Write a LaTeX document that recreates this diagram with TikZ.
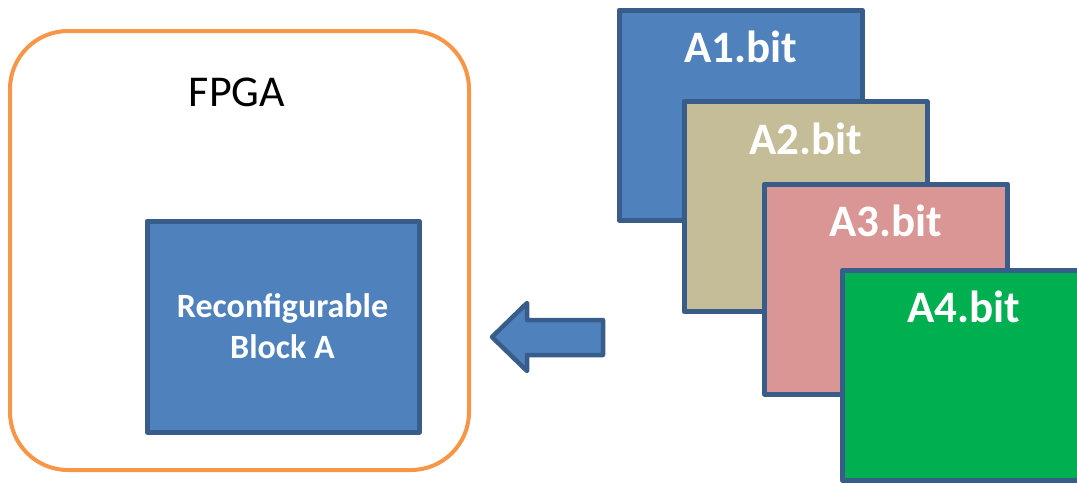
\documentclass[tikz,border=0pt]{standalone}
\usepackage{fontspec}
\setmainfont{Carlito}
\definecolor{fpgaorange}{HTML}{F79646}
\definecolor{boxblue}{HTML}{4F81BD}
\definecolor{boxedge}{HTML}{385D8A}
\definecolor{tan}{HTML}{C4BD97}
\definecolor{rose}{HTML}{D99694}
\definecolor{leaf}{HTML}{00B050}
\tikzset{
  chip/.style={draw=fpgaorange, line width=4pt, rounded corners=58pt,
    minimum width=459pt, minimum height=439pt, inner sep=0pt},
  block/.style={draw=boxedge, line width=5pt, minimum width=243pt,
    minimum height=210pt, inner sep=0pt, line join=round},
  bitlabel/.style={anchor=base, text=white, inner sep=0pt,
    font=\bfseries\fontsize{45}{45}\selectfont},
}
\begin{document}
\begin{tikzpicture}[x=1pt,y=-1pt]
\useasboundingbox (0,0) rectangle (1077,483);
\begin{scope}
\clip (0,0) rectangle (1077,483);

% FPGA outline and its reconfigurable region
\node[chip] (fpga) at (239.5,250.5) {};
\node[anchor=base, inner sep=0pt, font=\fontsize{44}{44}\selectfont]
  (fpgatitle) at (237,106) {FPGA};
\node[block, fill=boxblue, minimum width=272pt, minimum height=211pt]
  (rblock) at (283,326.5) {};
\node[align=center, text=white, inner sep=0pt, anchor=base,
  font=\bfseries\fontsize{34}{41}\selectfont]
  (rtext) at (282.5,358) {Reconfigurable\\Block A};

% stack of partial bitstreams
\node[block, fill=boxblue] (a1) at (740.5,115) {};
\node[bitlabel] (a1t) at ([yshift=-55pt]a1.north) {A1.bit};
\node[block, fill=tan] (a2) at (805.5,206.5) {};
\node[bitlabel] (a2t) at ([yshift=-55pt]a2.north) {A2.bit};
\node[block, fill=rose] (a3) at (886,289) {};
\node[bitlabel] (a3t) at ([yshift=-55pt]a3.north) {A3.bit};
\node[block, fill=leaf] (a4) at (964,375.5) {};
\node[bitlabel] (a4t) at ([yshift=-54pt]a4.north) {A4.bit};

% block arrow: bitstream loaded into the FPGA
\draw[boxedge, fill=boxblue, line width=4.5pt, line join=round]
  (492,337) -- (527,303) -- (527,320) -- (603,320) -- (603,355)
  -- (527,355) -- (527,371) -- cycle;
\end{scope}
\end{tikzpicture}
\end{document}
